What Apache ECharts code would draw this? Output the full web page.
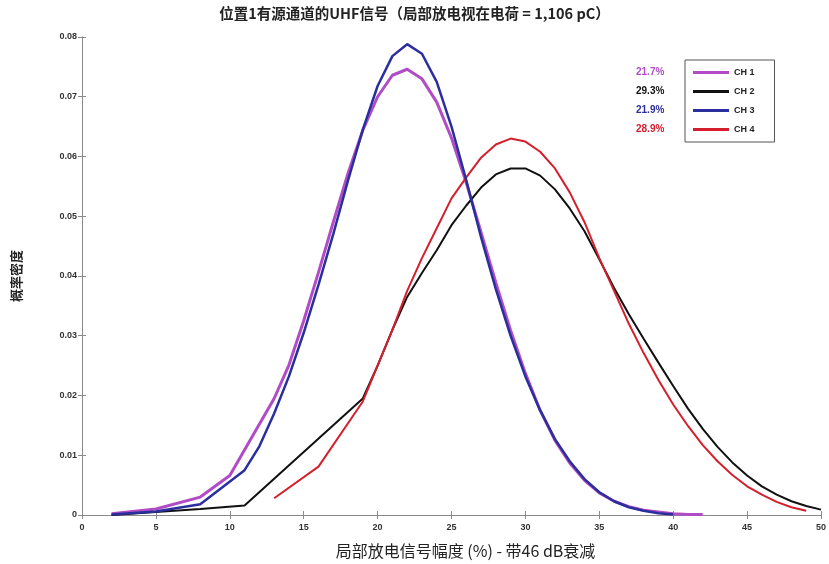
<!DOCTYPE html>
<html>
<head>
    <meta charset="UTF-8">
    <title>UHF</title>
    <style>
        *{ margin:0; padding:0; }
        body{ background:#fff; }
        .container{ width:829px; height:564px; }
    </style>
    <script src="https://cdn.jsdelivr.net/npm/echarts@6/dist/echarts.min.js"></script>
</head>
<body>
<div class="container"></div>
<script>
    // values
    const names = ['CH 1', 'CH 2', 'CH 3', 'CH 4'];
    const percents = ['21.7%', '29.3%', '21.9%', '28.9%'];
    const colors = ['#b24cc6', '#111111', '#2b2f9e', '#d4202e'];

    const ch1X = [2, 5, 8, 10, 13, 14, 15, 16, 17, 18, 19, 20, 21, 22, 23, 24, 25, 26, 27, 28, 29, 30, 31, 32, 33, 34, 35, 36, 37, 38, 39, 40, 41, 42];
    const ch1Y = [0.0002, 0.001, 0.003, 0.0066, 0.0195, 0.0251, 0.0325, 0.0406, 0.049, 0.0572, 0.0644, 0.07, 0.0736, 0.0746, 0.073, 0.0691, 0.0631, 0.0556, 0.0473, 0.0389, 0.0309, 0.0237, 0.0175, 0.0125, 0.0087, 0.0058, 0.0037, 0.0023, 0.0014, 0.0008, 0.0005, 0.0002, 0.0001, 0.0001];

    const ch2X = [2, 5, 8, 11, 19, 20, 21, 22, 23, 24, 25, 26, 27, 28, 29, 30, 31, 32, 33, 34, 35, 36, 37, 38, 39, 40, 41, 42, 43, 44, 45, 46, 47, 48, 49, 50];
    const ch2Y = [0, 0.0005, 0.001, 0.0016, 0.0195, 0.025, 0.031, 0.0365, 0.0405, 0.0443, 0.0485, 0.0518, 0.0548, 0.057, 0.058, 0.058, 0.0568, 0.0545, 0.0513, 0.0475, 0.0428, 0.038, 0.0336, 0.0295, 0.0255, 0.0216, 0.0178, 0.0144, 0.0114, 0.0088, 0.0066, 0.0048, 0.0034, 0.0023, 0.0015, 0.0009];

    const ch3X = [2, 5, 8, 11, 12, 13, 14, 15, 16, 17, 18, 19, 20, 21, 22, 23, 24, 25, 26, 27, 28, 29, 30, 31, 32, 33, 34, 35, 36, 37, 38, 39, 40];
    const ch3Y = [0.0001, 0.0006, 0.0018, 0.0075, 0.0115, 0.017, 0.0232, 0.0305, 0.0385, 0.047, 0.056, 0.0645, 0.0718, 0.0768, 0.0788, 0.0772, 0.0725, 0.065, 0.056, 0.0465, 0.0378, 0.03, 0.0232, 0.0175, 0.0127, 0.009, 0.006, 0.0038, 0.0023, 0.0013, 0.0007, 0.0003, 0.0001];

    const ch4X = [13, 16, 19, 20, 21, 22, 23, 24, 25, 26, 27, 28, 29, 30, 31, 32, 33, 34, 35, 36, 37, 38, 39, 40, 41, 42, 43, 44, 45, 46, 47, 48, 49];
    const ch4Y = [0.0028, 0.0081, 0.019, 0.025, 0.031, 0.0375, 0.043, 0.048, 0.053, 0.0565, 0.0598, 0.062, 0.063, 0.0625, 0.0608, 0.058, 0.054, 0.049, 0.043, 0.0375, 0.032, 0.0271, 0.0226, 0.0185, 0.0149, 0.0117, 0.009, 0.0067, 0.0048, 0.0034, 0.0022, 0.0013, 0.0007];

    const xs = [ch1X, ch2X, ch3X, ch4X];
    const ys = [ch1Y, ch2Y, ch3Y, ch4Y];
    const widths = [3, 2, 2.5, 2];

    let mychart = echarts.init(document.querySelector('.container'));

    let series = names.map((n, i) => ({
        name: n,
        type: 'line',
        showSymbol: false,
        data: xs[i].map((x, k) => [x, ys[i][k]]),
        lineStyle: { color: colors[i], width: widths[i] },
        itemStyle: { color: colors[i] },
        z: i == 2 ? 3 : 2
    }));

    const axisGray = '#8a8a8a';
    const tickFont = { fontFamily: 'Liberation Sans, Arial', fontSize: 9, fontWeight: 'bold', color: '#333' };

    let rowTop = 73;
    let graphic = percents.map((p, i) => ({
        type: 'text',
        left: 636,
        top: rowTop + i * 19 - 6,
        style: { text: p, fill: colors[i], font: 'bold 10px "Liberation Sans", Arial' }
    }));

    let option = {
        backgroundColor: '#fff',
        animation: false,
        title: {
            text: '位置1有源通道的UHF信号（局部放电视在电荷 = 1,106 pC）',
            left: 'center',
            top: 1,
            textStyle: { fontFamily: 'Noto Sans CJK SC', fontSize: 14.5, fontWeight: 'bold', color: '#222' }
        },
        grid: { left: 82, right: 7, top: 37, bottom: 47 },
        legend: {
            orient: 'vertical',
            left: 685,
            top: 60,
            data: names,
            icon: 'rect',
            itemWidth: 36,
            itemHeight: 3,
            itemGap: 10,
            padding: [8, 20, 8, 8],
            borderColor: '#555',
            borderWidth: 1,
            textStyle: { fontFamily: 'Liberation Sans, Arial', fontSize: 9, fontWeight: 'bold', color: '#222' }
        },
        xAxis: [{
            type: 'value', min: 0, max: 50, interval: 5,
            name: '局部放电信号幅度 (%) - 带46 dB衰减',
            nameLocation: 'middle', nameGap: 28,
            nameTextStyle: { fontFamily: 'Noto Sans CJK SC', fontSize: 16, color: '#222', padding: [0, 0, 0, 28] },
            axisLine: { lineStyle: { color: axisGray } },
            axisTick: { inside: true, length: 4, lineStyle: { color: axisGray } },
            axisLabel: tickFont,
            splitLine: { show: false }
        }, {
            type: 'value', min: 0, max: 50, interval: 5, position: 'top',
            axisLine: { show: true, lineStyle: { color: axisGray } },
            axisTick: { inside: true, length: 4, lineStyle: { color: axisGray } },
            axisLabel: { show: false },
            splitLine: { show: false }
        }],
        yAxis: [{
            type: 'value', min: 0, max: 0.08, interval: 0.01,
            name: '概率密度',
            nameLocation: 'middle', nameGap: 59,
            nameTextStyle: { fontFamily: 'Noto Sans CJK SC', fontSize: 13, fontWeight: 'bold', color: '#222' },
            axisLine: { show: true, lineStyle: { color: axisGray } },
            axisTick: { show: true, inside: true, length: 4, lineStyle: { color: axisGray } },
            axisLabel: Object.assign({ margin: 5 }, tickFont),
            splitLine: { show: false }
        }, {
            type: 'value', min: 0, max: 0.08, interval: 0.01, position: 'right',
            axisLine: { show: true, lineStyle: { color: axisGray } },
            axisTick: { show: true, inside: true, length: 4, lineStyle: { color: axisGray } },
            axisLabel: { show: false },
            splitLine: { show: false }
        }],
        graphic,
        series
    };
    mychart.setOption(option);
</script>
</body>
</html>
